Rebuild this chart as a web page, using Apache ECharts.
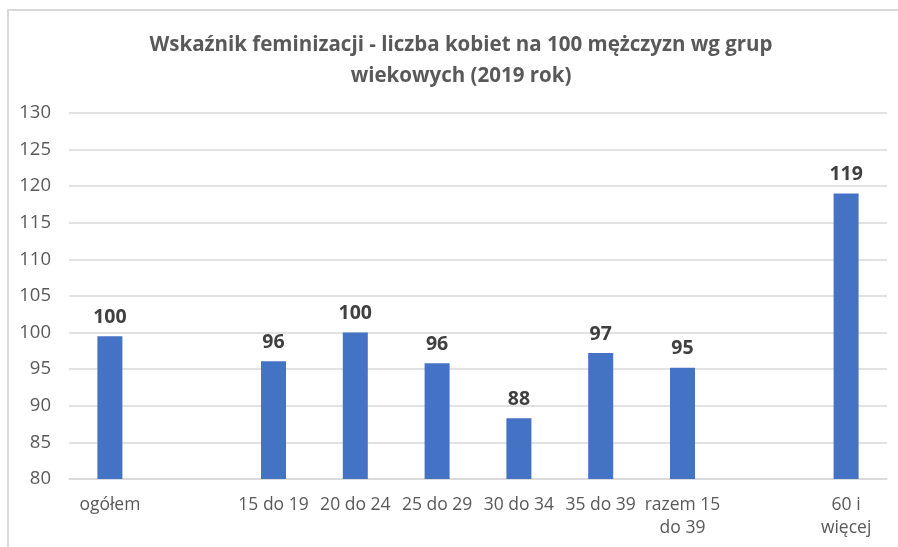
<!DOCTYPE html>
<html>
<head>
<meta charset="utf-8">
<script src="https://cdn.jsdelivr.net/npm/echarts@6/dist/echarts.min.js"></script>
<style>
  html, body { margin: 0; padding: 0; background: #fff; }
  #frame { position: absolute; left: 7px; top: 9px; width: 900px; height: 560px;
           border-left: 2px solid #d9d9d9; border-top: 2px solid #d9d9d9; }
  #main { position: absolute; left: 0; top: 0; width: 898px; height: 547px; }
</style>
</head>
<body>
<div id="frame"></div>
<div id="main"></div>
<script>
// dane
var categories = ['ogółem', '', '15 do 19', '20 do 24', '25 do 29', '30 do 34', '35 do 39', 'razem 15\ndo 39', '', '60 i\nwięcej'];
var values = [99.5, null, 96.1, 100.0, 95.8, 88.3, 97.2, 95.2, null, 119.0];
var yTicks = { min: 80, max: 130, interval: 5 };

var font = "'Open Sans', sans-serif";

var myChart = echarts.init(document.getElementById('main'));
var option = {
  backgroundColor: 'transparent',
  animation: false,
  title: {
    text: 'Wskaźnik feminizacji - liczba kobiet na 100 mężczyzn wg grup\nwiekowych (2019 rok)',
    left: 456,
    top: 25,
    textAlign: 'center',
    textStyle: {
      fontFamily: font,
      fontSize: 20.5,
      fontWeight: 'bold',
      color: '#595959',
      lineHeight: 31
    }
  },
  grid: { left: 69, right: 11, top: 113, bottom: 68 },
  xAxis: {
    type: 'category',
    data: categories,
    axisLine: { lineStyle: { color: '#d9d9d9', width: 1.5 } },
    axisTick: { show: false },
    axisLabel: {
      interval: 0,
      margin: 15,
      color: '#595959',
      fontFamily: font,
      fontSize: 17.5,
      lineHeight: 23
    }
  },
  yAxis: {
    type: 'value',
    min: yTicks.min,
    max: yTicks.max,
    interval: yTicks.interval,
    axisLine: { show: false },
    axisTick: { show: false },
    splitLine: { lineStyle: { color: '#d9d9d9', width: 1.5 } },
    axisLabel: {
      margin: 18,
      color: '#595959',
      fontFamily: font,
      fontSize: 18.5
    }
  },
  series: [
    {
      type: 'bar',
      data: values,
      barWidth: 25,
      itemStyle: { color: '#4472C4' },
      label: {
        show: true,
        position: 'top',
        distance: 9,
        color: '#404040',
        fontFamily: font,
        fontSize: 19.5,
        fontWeight: 'bold',
        formatter: function (p) { return Math.round(p.value); }
      }
    }
  ]
};
myChart.setOption(option);
</script>
</body>
</html>
